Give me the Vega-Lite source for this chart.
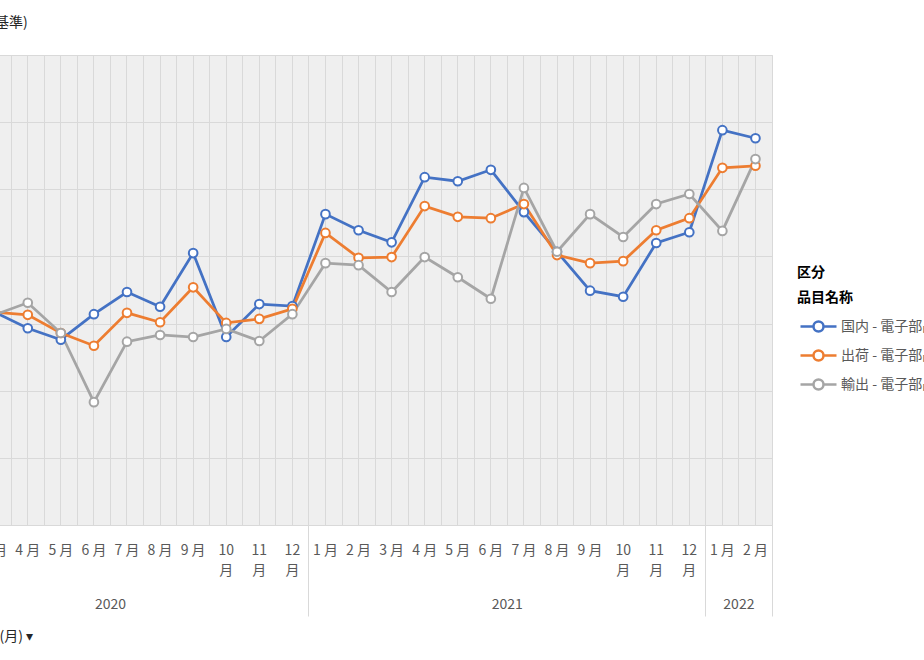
{
  "$schema": "https://vega.github.io/schema/vega-lite/v6.json",
  "width": 860,
  "height": 470,
  "autosize": {"type": "none"},
  "padding": {"left": -88, "top": 55, "right": 152, "bottom": 135},
  "background": "white",
  "config": {
    "font": "Noto Sans CJK JP",
    "view": {"fill": "#efefef", "stroke": "#d9d9d9"}
  },
  "title": {"text": "基準)", "anchor": "start", "frame": "group", "dx": 83, "offset": 19, "fontSize": 14, "fontWeight": "normal", "color": "#262626"},
  "data": {"values": [
    {"month": "2020-03", "series": "国内 - 電子部品・デバイス工業", "value": 101.7},
    {"month": "2020-04", "series": "国内 - 電子部品・デバイス工業", "value": 99.3},
    {"month": "2020-05", "series": "国内 - 電子部品・デバイス工業", "value": 97.6},
    {"month": "2020-06", "series": "国内 - 電子部品・デバイス工業", "value": 101.4},
    {"month": "2020-07", "series": "国内 - 電子部品・デバイス工業", "value": 104.7},
    {"month": "2020-08", "series": "国内 - 電子部品・デバイス工業", "value": 102.5},
    {"month": "2020-09", "series": "国内 - 電子部品・デバイス工業", "value": 110.5},
    {"month": "2020-10", "series": "国内 - 電子部品・デバイス工業", "value": 98.0},
    {"month": "2020-11", "series": "国内 - 電子部品・デバイス工業", "value": 102.9},
    {"month": "2020-12", "series": "国内 - 電子部品・デバイス工業", "value": 102.6},
    {"month": "2021-01", "series": "国内 - 電子部品・デバイス工業", "value": 116.3},
    {"month": "2021-02", "series": "国内 - 電子部品・デバイス工業", "value": 113.9},
    {"month": "2021-03", "series": "国内 - 電子部品・デバイス工業", "value": 112.1},
    {"month": "2021-04", "series": "国内 - 電子部品・デバイス工業", "value": 121.8},
    {"month": "2021-05", "series": "国内 - 電子部品・デバイス工業", "value": 121.2},
    {"month": "2021-06", "series": "国内 - 電子部品・デバイス工業", "value": 122.9},
    {"month": "2021-07", "series": "国内 - 電子部品・デバイス工業", "value": 116.6},
    {"month": "2021-08", "series": "国内 - 電子部品・デバイス工業", "value": 110.7},
    {"month": "2021-09", "series": "国内 - 電子部品・デバイス工業", "value": 104.9},
    {"month": "2021-10", "series": "国内 - 電子部品・デバイス工業", "value": 104.0},
    {"month": "2021-11", "series": "国内 - 電子部品・デバイス工業", "value": 112.0},
    {"month": "2021-12", "series": "国内 - 電子部品・デバイス工業", "value": 113.6},
    {"month": "2022-01", "series": "国内 - 電子部品・デバイス工業", "value": 128.8},
    {"month": "2022-02", "series": "国内 - 電子部品・デバイス工業", "value": 127.6},
    {"month": "2020-03", "series": "出荷 - 電子部品・デバイス工業", "value": 101.7},
    {"month": "2020-04", "series": "出荷 - 電子部品・デバイス工業", "value": 101.3},
    {"month": "2020-05", "series": "出荷 - 電子部品・デバイス工業", "value": 98.6},
    {"month": "2020-06", "series": "出荷 - 電子部品・デバイス工業", "value": 96.7},
    {"month": "2020-07", "series": "出荷 - 電子部品・デバイス工業", "value": 101.6},
    {"month": "2020-08", "series": "出荷 - 電子部品・デバイス工業", "value": 100.2},
    {"month": "2020-09", "series": "出荷 - 電子部品・デバイス工業", "value": 105.4},
    {"month": "2020-10", "series": "出荷 - 電子部品・デバイス工業", "value": 100.1},
    {"month": "2020-11", "series": "出荷 - 電子部品・デバイス工業", "value": 100.7},
    {"month": "2020-12", "series": "出荷 - 電子部品・デバイス工業", "value": 102.2},
    {"month": "2021-01", "series": "出荷 - 電子部品・デバイス工業", "value": 113.5},
    {"month": "2021-02", "series": "出荷 - 電子部品・デバイス工業", "value": 109.8},
    {"month": "2021-03", "series": "出荷 - 電子部品・デバイス工業", "value": 109.9},
    {"month": "2021-04", "series": "出荷 - 電子部品・デバイス工業", "value": 117.5},
    {"month": "2021-05", "series": "出荷 - 電子部品・デバイス工業", "value": 115.9},
    {"month": "2021-06", "series": "出荷 - 電子部品・デバイス工業", "value": 115.7},
    {"month": "2021-07", "series": "出荷 - 電子部品・デバイス工業", "value": 117.8},
    {"month": "2021-08", "series": "出荷 - 電子部品・デバイス工業", "value": 110.2},
    {"month": "2021-09", "series": "出荷 - 電子部品・デバイス工業", "value": 109.0},
    {"month": "2021-10", "series": "出荷 - 電子部品・デバイス工業", "value": 109.3},
    {"month": "2021-11", "series": "出荷 - 電子部品・デバイス工業", "value": 113.9},
    {"month": "2021-12", "series": "出荷 - 電子部品・デバイス工業", "value": 115.7},
    {"month": "2022-01", "series": "出荷 - 電子部品・デバイス工業", "value": 123.2},
    {"month": "2022-02", "series": "出荷 - 電子部品・デバイス工業", "value": 123.5},
    {"month": "2020-03", "series": "輸出 - 電子部品・デバイス工業", "value": 101.3},
    {"month": "2020-04", "series": "輸出 - 電子部品・デバイス工業", "value": 103.1},
    {"month": "2020-05", "series": "輸出 - 電子部品・デバイス工業", "value": 98.6},
    {"month": "2020-06", "series": "輸出 - 電子部品・デバイス工業", "value": 88.3},
    {"month": "2020-07", "series": "輸出 - 電子部品・デバイス工業", "value": 97.3},
    {"month": "2020-08", "series": "輸出 - 電子部品・デバイス工業", "value": 98.3},
    {"month": "2020-09", "series": "輸出 - 電子部品・デバイス工業", "value": 98.0},
    {"month": "2020-10", "series": "輸出 - 電子部品・デバイス工業", "value": 99.2},
    {"month": "2020-11", "series": "輸出 - 電子部品・デバイス工業", "value": 97.4},
    {"month": "2020-12", "series": "輸出 - 電子部品・デバイス工業", "value": 101.4},
    {"month": "2021-01", "series": "輸出 - 電子部品・デバイス工業", "value": 109.0},
    {"month": "2021-02", "series": "輸出 - 電子部品・デバイス工業", "value": 108.7},
    {"month": "2021-03", "series": "輸出 - 電子部品・デバイス工業", "value": 104.7},
    {"month": "2021-04", "series": "輸出 - 電子部品・デバイス工業", "value": 109.9},
    {"month": "2021-05", "series": "輸出 - 電子部品・デバイス工業", "value": 106.9},
    {"month": "2021-06", "series": "輸出 - 電子部品・デバイス工業", "value": 103.7},
    {"month": "2021-07", "series": "輸出 - 電子部品・デバイス工業", "value": 120.2},
    {"month": "2021-08", "series": "輸出 - 電子部品・デバイス工業", "value": 110.7},
    {"month": "2021-09", "series": "輸出 - 電子部品・デバイス工業", "value": 116.3},
    {"month": "2021-10", "series": "輸出 - 電子部品・デバイス工業", "value": 112.9},
    {"month": "2021-11", "series": "輸出 - 電子部品・デバイス工業", "value": 117.8},
    {"month": "2021-12", "series": "輸出 - 電子部品・デバイス工業", "value": 119.3},
    {"month": "2022-01", "series": "輸出 - 電子部品・デバイス工業", "value": 113.8},
    {"month": "2022-02", "series": "輸出 - 電子部品・デバイス工業", "value": 124.5}
  ]},
  "encoding": {
    "y": {"field": "value", "type": "quantitative",
      "scale": {"domain": [70, 140], "nice": false, "zero": false},
      "axis": {"values": [70, 80, 90, 100, 110, 120, 130, 140], "grid": true, "gridColor": "#d9d9d9", "gridWidth": 1, "domain": false, "ticks": false, "title": null, "labelColor": "#595959", "labelFontSize": 13}}
  },
  "layer": [
    {
      "mark": {"type": "line", "strokeWidth": 2.75},
      "encoding": {
        "x": {"field": "month", "type": "ordinal",
          "scale": {"type": "band", "paddingInner": 0, "paddingOuter": 0, "domain": ["2020-01","2020-02","2020-03","2020-04","2020-05","2020-06","2020-07","2020-08","2020-09","2020-10","2020-11","2020-12","2021-01","2021-02","2021-03","2021-04","2021-05","2021-06","2021-07","2021-08","2021-09","2021-10","2021-11","2021-12","2022-01","2022-02"]},
          "axis": {"orient": "bottom", "bandPosition": 0.5, "grid": true, "gridColor": "#d9d9d9", "gridWidth": 1, "ticks": false, "domain": false,
            "labelExpr": "toNumber(slice(datum.value,5)) >= 10 ? [slice(datum.value,5), '月'] : toNumber(slice(datum.value,5)) + ' 月'",
            "labelAngle": 0, "labelAlign": "center", "labelBaseline": "top", "labelPadding": 18, "labelLineHeight": 20, "labelFontSize": 14, "labelColor": "#595959", "labelOverlap": false, "labelBound": false, "labelFlush": false,
            "title": "(月) ▾", "titleX": 87, "titleY": 111, "titleAlign": "left", "titleBaseline": "middle", "titleFontSize": 14, "titleFontWeight": "normal", "titleColor": "#262626"}
        },
        "color": {"field": "series", "type": "nominal",
          "scale": {"domain": ["国内 - 電子部品・デバイス工業", "出荷 - 電子部品・デバイス工業", "輸出 - 電子部品・デバイス工業"], "range": ["#4472C4", "#ED7D31", "#A5A5A5"]},
          "legend": {"orient": "none", "legendX": 885, "legendY": 211, "padding": 0,
            "title": ["区分", "品目名称"], "titleFontSize": 14, "titleFontWeight": "bold", "titleColor": "#000000", "titleLineHeight": 25, "titlePadding": 10, "titleBaseline": "top",
            "labelFontSize": 14, "labelColor": "#595959", "labelLimit": 400, "labelOffset": 21,
            "symbolType": "M-0.8,0L0.5,0M1.5,0L2.8,0M1.5,0A0.5,0.5,0,1,1,0.5,0A0.5,0.5,0,1,1,1.5,0Z",
            "symbolSize": 400, "symbolStrokeWidth": 2.5, "rowPadding": 7,
            "encode": {"symbols": {"update": {"fill": {"value": "white"}, "opacity": {"value": 1}}}}}
        }
      }
    },
    {
      "mark": {"type": "point", "shape": "circle", "filled": false, "fill": "white", "strokeWidth": 2, "size": 75, "opacity": 1},
      "encoding": {
        "x": {"field": "month", "type": "ordinal",
          "scale": {"type": "band", "paddingInner": 0, "paddingOuter": 0, "domain": ["2020-01","2020-02","2020-03","2020-04","2020-05","2020-06","2020-07","2020-08","2020-09","2020-10","2020-11","2020-12","2021-01","2021-02","2021-03","2021-04","2021-05","2021-06","2021-07","2021-08","2021-09","2021-10","2021-11","2021-12","2022-01","2022-02"]},
          "axis": {"orient": "bottom", "bandPosition": 0, "grid": true, "gridColor": "#d9d9d9", "gridWidth": 1, "ticks": false, "labels": false, "domain": false, "title": null}
        },
        "color": {"field": "series", "type": "nominal",
          "scale": {"domain": ["国内 - 電子部品・デバイス工業", "出荷 - 電子部品・デバイス工業", "輸出 - 電子部品・デバイス工業"], "range": ["#4472C4", "#ED7D31", "#A5A5A5"]}}
      }
    },
    {
      "mark": {"type": "point", "opacity": 0},
      "encoding": {
        "x": {"field": "month", "type": "ordinal",
          "scale": {"type": "band", "paddingInner": 0, "paddingOuter": 0, "domain": ["2020-01","2020-02","2020-03","2020-04","2020-05","2020-06","2020-07","2020-08","2020-09","2020-10","2020-11","2020-12","2021-01","2021-02","2021-03","2021-04","2021-05","2021-06","2021-07","2021-08","2021-09","2021-10","2021-11","2021-12","2022-01","2022-02"]},
          "axis": {"orient": "bottom", "values": ["2020-06", "2021-06", "2022-01"], "bandPosition": 0.5, "labelOffset": 16.5, "grid": false, "ticks": false, "domain": false, "title": null,
            "labelExpr": "slice(datum.value,0,4)", "labelAngle": 0, "labelAlign": "center", "labelBaseline": "top", "labelPadding": 72, "labelFontSize": 14, "labelColor": "#595959", "labelOverlap": false, "labelBound": false, "labelFlush": false}
        }
      }
    },
    {
      "mark": {"type": "point", "opacity": 0},
      "encoding": {
        "x": {"field": "month", "type": "ordinal",
          "scale": {"type": "band", "paddingInner": 0, "paddingOuter": 0, "domain": ["2020-01","2020-02","2020-03","2020-04","2020-05","2020-06","2020-07","2020-08","2020-09","2020-10","2020-11","2020-12","2021-01","2021-02","2021-03","2021-04","2021-05","2021-06","2021-07","2021-08","2021-09","2021-10","2021-11","2021-12","2022-01","2022-02"]},
          "axis": {"orient": "bottom", "values": ["2020-01", "2021-01", "2022-01"], "bandPosition": 0, "grid": false, "ticks": true, "tickSize": 91, "tickColor": "#d9d9d9", "tickWidth": 1, "labels": false, "domain": false, "title": null}
        }
      }
    },
    {
      "mark": {"type": "point", "opacity": 0},
      "encoding": {
        "x": {"field": "month", "type": "ordinal",
          "scale": {"type": "band", "paddingInner": 0, "paddingOuter": 0, "domain": ["2020-01","2020-02","2020-03","2020-04","2020-05","2020-06","2020-07","2020-08","2020-09","2020-10","2020-11","2020-12","2021-01","2021-02","2021-03","2021-04","2021-05","2021-06","2021-07","2021-08","2021-09","2021-10","2021-11","2021-12","2022-01","2022-02"]},
          "axis": {"orient": "bottom", "values": ["2022-02"], "bandPosition": 1, "grid": false, "ticks": true, "tickSize": 91, "tickColor": "#d9d9d9", "tickWidth": 1, "labels": false, "domain": false, "title": null}
        }
      }
    }
  ],
  "resolve": {"axis": {"x": "independent"}}
}
